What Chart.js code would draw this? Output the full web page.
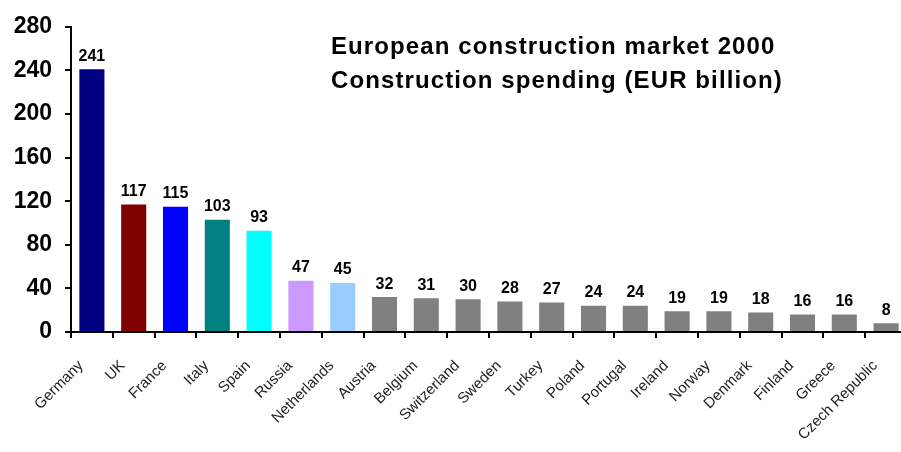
<!DOCTYPE html>
<html>
<head>
<meta charset="utf-8">
<script src="https://cdn.jsdelivr.net/npm/chart.js@4.4.0/dist/chart.umd.min.js"></script>
<style>
  html, body { margin: 0; padding: 0; background: #fff; overflow: hidden; }
  #wrap { width: 910px; height: 452px; }
</style>
</head>
<body>
<div id="wrap"><canvas id="barChart" width="910" height="452"></canvas></div>
<script>
var countries = ['Germany', 'UK', 'France', 'Italy', 'Spain', 'Russia', 'Netherlands', 'Austria',
    'Belgium', 'Switzerland', 'Sweden', 'Turkey', 'Poland', 'Portugal', 'Ireland', 'Norway',
    'Denmark', 'Finland', 'Greece', 'Czech Republic'];
var spending = [241, 117, 115, 103, 93, 47, 45, 32, 31, 30, 28, 27, 24, 24, 19, 19, 18, 16, 16, 8];
var barColors = ['#000080', '#800000', '#0000ff', '#008080', '#00ffff', '#cc99ff', '#99ccff',
    '#808080', '#808080', '#808080', '#808080', '#808080', '#808080', '#808080', '#808080',
    '#808080', '#808080', '#808080', '#808080', '#808080'];
var titleLines = ['European construction market 2000', 'Construction spending (EUR billion)'];

// value labels above each bar
var valueLabels = {
    id: 'valueLabels',
    afterDatasetsDraw: function(chart) {
        var ctx = chart.ctx;
        var meta = chart.getDatasetMeta(0);
        ctx.save();
        ctx.font = 'bold 16px "Liberation Sans", Arial, sans-serif';
        ctx.fillStyle = '#000';
        ctx.textAlign = 'center';
        ctx.textBaseline = 'bottom';
        meta.data.forEach(function(bar, i) {
            ctx.fillText(String(spending[i]), bar.x, bar.y - 5);
        });
        ctx.restore();
    }
};

// two line title inside the plot area
var titleText = {
    id: 'titleText',
    afterDraw: function(chart) {
        var ctx = chart.ctx;
        ctx.save();
        ctx.font = 'bold 24px "Liberation Sans", Arial, sans-serif';
        if ('letterSpacing' in ctx) ctx.letterSpacing = '1.1px';
        ctx.fillStyle = '#000';
        ctx.textAlign = 'left';
        ctx.textBaseline = 'alphabetic';
        ctx.fillText(titleLines[0], 331, 54);
        ctx.fillText(titleLines[1], 331, 88);
        ctx.restore();
    }
};

var ctx = document.getElementById('barChart').getContext('2d');
var myChart = new Chart(ctx, {
    type: 'bar',
    data: {
        labels: countries,
        datasets: [{
            data: spending,
            backgroundColor: barColors,
            borderWidth: 0,
            barPercentage: 0.6,
            categoryPercentage: 1.0
        }]
    },
    options: {
        responsive: false,
        animation: false,
        layout: { padding: { top: 21, right: 3, left: 0, bottom: 0 } },
        plugins: {
            legend: { display: false },
            tooltip: { enabled: false }
        },
        scales: {
            x: {
                border: { display: true, color: '#000', width: 2 },
                grid: {
                    offset: true,
                    drawOnChartArea: false,
                    drawTicks: true,
                    tickLength: 6,
                    color: '#000',
                    lineWidth: 2
                },
                ticks: {
                    autoSkip: false,
                    minRotation: 45,
                    maxRotation: 45,
                    padding: 19,
                    labelOffset: -11,
                    color: '#222',
                    font: { family: '"Liberation Sans Narrow", "Liberation Sans", Arial, sans-serif', size: 15 }
                },
                afterFit: function(scale) {
                    scale.height = 120;
                    scale.paddingLeft = 0;
                    scale.paddingRight = 0;
                }
            },
            y: {
                min: 0,
                max: 280,
                border: { display: true, color: '#000', width: 2 },
                grid: {
                    drawOnChartArea: false,
                    drawTicks: true,
                    tickLength: 6,
                    color: '#000',
                    lineWidth: 2
                },
                ticks: {
                    stepSize: 40,
                    padding: 13,
                    color: '#000',
                    font: { family: '"Liberation Sans", Arial, sans-serif', size: 23, weight: 'bold' }
                },
                afterFit: function(scale) { scale.width = 71; }
            }
        }
    },
    plugins: [valueLabels, titleText]
});
</script>
</body>
</html>
